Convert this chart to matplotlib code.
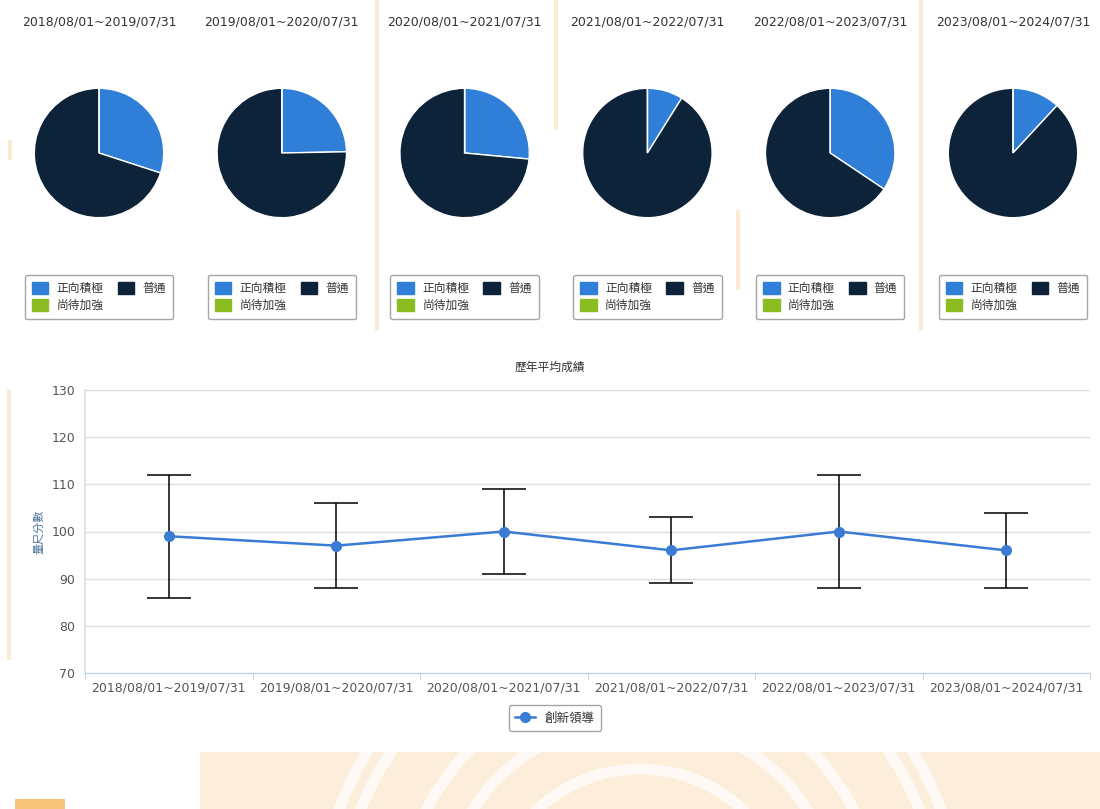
import matplotlib
matplotlib.use('Agg')
import matplotlib.pyplot as plt
from matplotlib.patches import Rectangle, Arc
from matplotlib.lines import Line2D

plt.rcParams['font.family'] = ['DejaVu Sans', 'Noto Sans CJK TC']

# --- данные ---
periods = ["2018/08/01~2019/07/31", "2019/08/01~2020/07/31", "2020/08/01~2021/07/31",
           "2021/08/01~2022/07/31", "2022/08/01~2023/07/31", "2023/08/01~2024/07/31"]
pie_labels = ["正向積極", "普通", "尚待加強"]
positive = [30.0, 24.7, 26.5, 8.9, 34.4, 11.9]
normal = [70.0, 75.3, 73.5, 91.1, 65.6, 88.1]
weak = [0, 0, 0, 0, 0, 0]

series_name = "創新領導"
avg_score = [99, 97, 100, 96, 100, 96]
score_low = [86, 88, 91, 89, 88, 88]
score_high = [112, 106, 109, 103, 112, 104]
y_ticks = [70, 80, 90, 100, 110, 120, 130]

pie_colors = ["#2f7ed8", "#0d233a", "#8bbc21"]
line_color = "#3a7bd5"

W, H = 1100, 809
fig = plt.figure(figsize=(W / 100, H / 100), dpi=100)
fig.patch.set_facecolor("white")

# фон: бледные оранжевые полосы и узор внизу
for x0, y0, y1 in [(375, 0, 330), (554, 0, 130), (736, 210, 290), (919, 0, 330), (8, 140, 160), (7, 390, 660)]:
    fig.patches.append(Rectangle((x0 / W, 1 - y1 / H), 4 / W, (y1 - y0) / H, transform=fig.transFigure,
                                 color="#fbe3c2", alpha=0.7, lw=0, zorder=-1))
bg = Rectangle((200 / W, 0), 900 / W, 57 / H, transform=fig.transFigure,
               color="#fdeedb", lw=0, zorder=-1)
fig.patches.append(bg)
for r in [150, 200, 240, 300, 320]:
    arc = Arc((640 / W, -110 / H), 2 * r / W, 2 * r / H, theta1=20, theta2=160,
              transform=fig.transFigure, color="white", lw=8, alpha=0.7, zorder=-1)
    arc.set_clip_path(bg)
    fig.patches.append(arc)
fig.patches.append(Rectangle((15 / W, 0), 50 / W, 10 / H, transform=fig.transFigure,
                             color="#f7b45a", lw=0, alpha=0.8, zorder=-1))

# --- круговые диаграммы ---
col_w = 182.8
for i, period in enumerate(periods):
    cx = 99 + i * col_w
    ax = fig.add_axes([(cx - 66) / W, 1 - (153 + 66) / H, 132 / W, 132 / H])
    ax.pie([positive[i], normal[i], weak[i]], colors=pie_colors, startangle=90,
           counterclock=False, radius=1, wedgeprops=dict(edgecolor="white", linewidth=1))
    ax.set_xlim(-1.02, 1.02)
    ax.set_ylim(-1.02, 1.02)
    ax.set_aspect("equal")
    fig.text(cx / W, 1 - 22 / H, period, ha="center", va="center", fontsize=9, color="#333333")
    handles = [Rectangle((0, 0), 1, 1, color=pie_colors[k]) for k in (0, 2, 1)]
    names = [pie_labels[k] for k in (0, 2, 1)]
    leg = ax.legend(handles, names, ncol=2, loc="center",
                    bbox_to_anchor=(cx / W, 1 - 297 / H), bbox_transform=fig.transFigure,
                    fontsize=8.5, frameon=True, fancybox=True, edgecolor="#909090",
                    handlelength=1.4, handleheight=1.2, columnspacing=1.2, labelspacing=0.3,
                    borderpad=0.6, handletextpad=0.7, labelcolor="#333333")
    leg.get_frame().set_linewidth(1)

# --- линейный график ---
ax = fig.add_axes([85 / W, 1 - 673 / H, 1005 / W, 283 / H])
x = list(range(len(periods)))
err_low = [a - l for a, l in zip(avg_score, score_low)]
err_high = [h - a for a, h in zip(avg_score, score_high)]
ax.errorbar(x, avg_score, yerr=[err_low, err_high], fmt="none", ecolor="black",
            elinewidth=1.1, capsize=15.5, capthick=1.1, zorder=3)
ax.plot(x, avg_score, color=line_color, linewidth=1.8, marker="o", markersize=7, zorder=4)

ax.set_xlim(-0.5, len(periods) - 0.5)
ax.set_ylim(70, 130)
ax.set_yticks(y_ticks)
ax.set_xticks(x)
ax.set_xticklabels(periods, fontsize=9, color="#555555")
ax.set_xticks([k - 0.5 for k in range(len(periods) + 1)], minor=True)
ax.tick_params(axis="x", which="major", length=0, pad=6)
ax.tick_params(axis="x", which="minor", length=5, color="#c0d0e0")
ax.tick_params(axis="y", length=0, labelsize=9, labelcolor="#555555", pad=7)
ax.grid(axis="y", color="#dddddd", linewidth=1)
ax.set_axisbelow(True)
for s in ["top", "right"]:
    ax.spines[s].set_visible(False)
ax.spines["left"].set_color("#dbe3ee")
ax.spines["bottom"].set_color("#c0d0e0")
ax.spines["left"].set_linewidth(1.5)

ax.set_ylabel("量尺分數", fontsize=8, color="#4d759e", labelpad=5)
fig.text(550 / W, 1 - 367 / H, "歷年平均成績", ha="center", va="center", fontsize=8.5, color="#333333")

h = Line2D([0], [0], color=line_color, linewidth=1.8, marker="o", markersize=7)
leg = ax.legend([h], [series_name], loc="center", bbox_to_anchor=(555 / W, 1 - 718 / H),
                bbox_transform=fig.transFigure, fontsize=9, frameon=True, fancybox=True,
                edgecolor="#909090", handlelength=1.6, borderpad=0.5, labelcolor="#333333")
leg.get_frame().set_linewidth(1)

plt.savefig("out.png", dpi=100)
